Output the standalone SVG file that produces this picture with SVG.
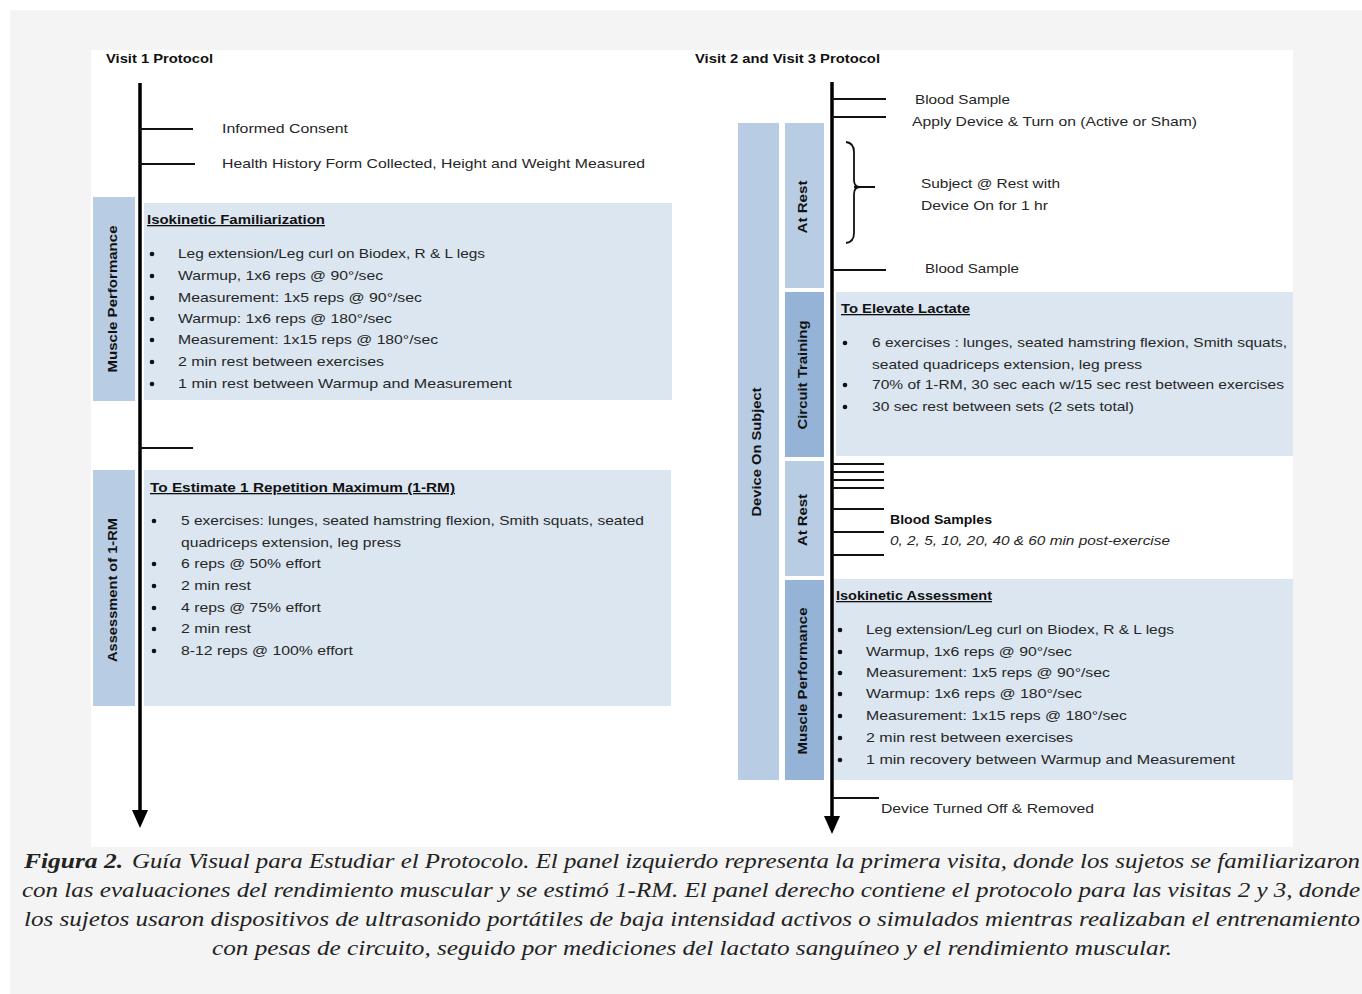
<svg xmlns="http://www.w3.org/2000/svg" width="1362" height="994" viewBox="0 0 1362 994">
<defs>
<style>
.t{font-family:"Liberation Sans",Arial,sans-serif;font-size:13.5px;fill:#262626}
.b{font-family:"Liberation Sans",Arial,sans-serif;font-size:13px;font-weight:bold;fill:#111}
.u{text-decoration:underline}
.i{font-style:italic}
.dot{fill:#111}
.side{fill:#b8cce4}
.side2{fill:#95b3d7}
.box{fill:#dce6f1}
.tick{stroke:#111;stroke-width:2;fill:none}
.axis{stroke:#000;stroke-width:3.5;fill:none}
.cap{font-family:"Liberation Serif","Times New Roman",serif;font-style:italic;font-size:20px;fill:#222}
</style>
<marker id="ah" markerUnits="userSpaceOnUse" markerWidth="18" markerHeight="16" refX="0" refY="8" orient="auto" viewBox="0 0 18 16">
<path d="M0,0 L18,8 L0,16 Z" fill="#000"/>
</marker>
</defs>
<rect x="0" y="0" width="1362" height="994" fill="#ffffff"/>
<rect x="10" y="10" width="1352" height="984" fill="#f4f4f4"/>
<rect x="91" y="50" width="1202" height="797" fill="#ffffff"/>

<!-- Left panel -->
<g id="visit1-title"><text class="b" x="106" y="63" textLength="107" lengthAdjust="spacingAndGlyphs">Visit 1 Protocol</text></g>

<g id="left-mp-side">
<rect class="side" x="93" y="197" width="42" height="204"/>
<text class="b" transform="translate(117,299) rotate(-90)" text-anchor="middle" textLength="147" lengthAdjust="spacingAndGlyphs">Muscle Performance</text>
</g>
<g id="left-mp-box">
<rect class="box" x="144" y="203" width="528" height="197"/>
<text class="b u" x="147" y="224" textLength="178" lengthAdjust="spacingAndGlyphs">Isokinetic Familiarization</text>
<g class="dot">
<circle cx="152" cy="254" r="2.3"/><circle cx="152" cy="276" r="2.3"/><circle cx="152" cy="298" r="2.3"/><circle cx="152" cy="319" r="2.3"/><circle cx="152" cy="340" r="2.3"/><circle cx="152" cy="362" r="2.3"/><circle cx="152" cy="384" r="2.3"/>
</g>
<g class="t">
<text x="178" y="258" textLength="307" lengthAdjust="spacingAndGlyphs">Leg extension/Leg curl on Biodex, R &amp; L legs</text>
<text x="178" y="280" textLength="205" lengthAdjust="spacingAndGlyphs">Warmup, 1x6 reps @ 90°/sec</text>
<text x="178" y="302" textLength="244" lengthAdjust="spacingAndGlyphs">Measurement: 1x5 reps @ 90°/sec</text>
<text x="178" y="323" textLength="214" lengthAdjust="spacingAndGlyphs">Warmup: 1x6 reps @ 180°/sec</text>
<text x="178" y="344" textLength="260" lengthAdjust="spacingAndGlyphs">Measurement: 1x15 reps @ 180°/sec</text>
<text x="178" y="366" textLength="206" lengthAdjust="spacingAndGlyphs">2 min rest between exercises</text>
<text x="178" y="388" textLength="334" lengthAdjust="spacingAndGlyphs">1 min rest between Warmup and Measurement</text>
</g>
</g>

<g id="left-rm-side">
<rect class="side" x="93" y="470" width="42" height="236"/>
<text class="b" transform="translate(117,590) rotate(-90)" text-anchor="middle" textLength="144" lengthAdjust="spacingAndGlyphs">Assessment of 1-RM</text>
</g>
<g id="left-rm-box">
<rect class="box" x="144" y="470" width="527" height="236"/>
<text class="b u" x="150" y="492" textLength="305" lengthAdjust="spacingAndGlyphs">To Estimate 1 Repetition Maximum (1-RM)</text>
<g class="dot">
<circle cx="154" cy="521" r="2.3"/><circle cx="154" cy="564" r="2.3"/><circle cx="154" cy="586" r="2.3"/><circle cx="154" cy="608" r="2.3"/><circle cx="154" cy="629" r="2.3"/><circle cx="154" cy="651" r="2.3"/>
</g>
<g class="t">
<text x="181" y="525" textLength="463" lengthAdjust="spacingAndGlyphs">5 exercises: lunges, seated hamstring flexion, Smith squats, seated</text>
<text x="181" y="547" textLength="220" lengthAdjust="spacingAndGlyphs">quadriceps extension, leg press</text>
<text x="181" y="568" textLength="140" lengthAdjust="spacingAndGlyphs">6 reps @ 50% effort</text>
<text x="181" y="590" textLength="70" lengthAdjust="spacingAndGlyphs">2 min rest</text>
<text x="181" y="612" textLength="140" lengthAdjust="spacingAndGlyphs">4 reps @ 75% effort</text>
<text x="181" y="633" textLength="70" lengthAdjust="spacingAndGlyphs">2 min rest</text>
<text x="181" y="655" textLength="172" lengthAdjust="spacingAndGlyphs">8-12 reps @ 100% effort</text>
</g>
</g>

<g id="left-events" class="t">
<text x="222" y="133" textLength="126" lengthAdjust="spacingAndGlyphs">Informed Consent</text>
<text x="222" y="168" textLength="423" lengthAdjust="spacingAndGlyphs">Health History Form Collected, Height and Weight Measured</text>
</g>

<!-- Right panel -->
<g id="visit23-title"><text class="b" x="695" y="63" textLength="185" lengthAdjust="spacingAndGlyphs">Visit 2 and Visit 3 Protocol</text></g>

<g id="device-side">
<rect class="side" x="738" y="123" width="41" height="657"/>
<text class="b" transform="translate(761,452) rotate(-90)" text-anchor="middle" textLength="129" lengthAdjust="spacingAndGlyphs">Device On Subject</text>
</g>
<g id="rest1-side">
<rect class="side" x="785" y="123" width="39" height="165"/>
<text class="b" transform="translate(807,207) rotate(-90)" text-anchor="middle" textLength="53" lengthAdjust="spacingAndGlyphs">At Rest</text>
</g>
<g id="circuit-side">
<rect class="side2" x="785" y="292" width="39" height="165"/>
<text class="b" transform="translate(807,375) rotate(-90)" text-anchor="middle" textLength="109" lengthAdjust="spacingAndGlyphs">Circuit Training</text>
</g>
<g id="rest2-side">
<rect class="side" x="785" y="461" width="39" height="115"/>
<text class="b" transform="translate(807,520) rotate(-90)" text-anchor="middle" textLength="52" lengthAdjust="spacingAndGlyphs">At Rest</text>
</g>
<g id="mp2-side">
<rect class="side2" x="785" y="580" width="39" height="200"/>
<text class="b" transform="translate(807,681) rotate(-90)" text-anchor="middle" textLength="147" lengthAdjust="spacingAndGlyphs">Muscle Performance</text>
</g>

<g id="lactate-box">
<rect class="box" x="836" y="292" width="457" height="164"/>
<text class="b u" x="841" y="313" textLength="129" lengthAdjust="spacingAndGlyphs">To Elevate Lactate</text>
<g class="dot">
<circle cx="845" cy="343" r="2.3"/><circle cx="845" cy="385" r="2.3"/><circle cx="845" cy="407" r="2.3"/>
</g>
<g class="t">
<text x="872" y="347" textLength="415" lengthAdjust="spacingAndGlyphs">6 exercises : lunges, seated hamstring flexion, Smith squats,</text>
<text x="872" y="369" textLength="270" lengthAdjust="spacingAndGlyphs">seated quadriceps extension, leg press</text>
<text x="872" y="389" textLength="412" lengthAdjust="spacingAndGlyphs">70% of 1-RM, 30 sec each w/15 sec rest between exercises</text>
<text x="872" y="411" textLength="262" lengthAdjust="spacingAndGlyphs">30 sec rest between sets (2 sets total)</text>
</g>
</g>

<g id="iso-box">
<rect class="box" x="832" y="579" width="461" height="201"/>
<text class="b u" x="836" y="600" textLength="156" lengthAdjust="spacingAndGlyphs">Isokinetic Assessment</text>
<g class="dot">
<circle cx="840" cy="630" r="2.3"/><circle cx="840" cy="652" r="2.3"/><circle cx="840" cy="673" r="2.3"/><circle cx="840" cy="694" r="2.3"/><circle cx="840" cy="716" r="2.3"/><circle cx="840" cy="738" r="2.3"/><circle cx="840" cy="760" r="2.3"/>
</g>
<g class="t">
<text x="866" y="634" textLength="308" lengthAdjust="spacingAndGlyphs">Leg extension/Leg curl on Biodex, R &amp; L legs</text>
<text x="866" y="656" textLength="206" lengthAdjust="spacingAndGlyphs">Warmup, 1x6 reps @ 90°/sec</text>
<text x="866" y="677" textLength="244" lengthAdjust="spacingAndGlyphs">Measurement: 1x5 reps @ 90°/sec</text>
<text x="866" y="698" textLength="216" lengthAdjust="spacingAndGlyphs">Warmup: 1x6 reps @ 180°/sec</text>
<text x="866" y="720" textLength="261" lengthAdjust="spacingAndGlyphs">Measurement: 1x15 reps @ 180°/sec</text>
<text x="866" y="742" textLength="207" lengthAdjust="spacingAndGlyphs">2 min rest between exercises</text>
<text x="866" y="764" textLength="369" lengthAdjust="spacingAndGlyphs">1 min recovery between Warmup and Measurement</text>
</g>
</g>

<g id="right-events" class="t">
<text x="915" y="104" textLength="95" lengthAdjust="spacingAndGlyphs">Blood Sample</text>
<text x="912" y="126" textLength="285" lengthAdjust="spacingAndGlyphs">Apply Device &amp; Turn on (Active or Sham)</text>
<text x="921" y="188" textLength="139" lengthAdjust="spacingAndGlyphs">Subject @ Rest with</text>
<text x="921" y="210" textLength="127" lengthAdjust="spacingAndGlyphs">Device On for 1 hr</text>
<text x="925" y="273" textLength="94" lengthAdjust="spacingAndGlyphs">Blood Sample</text>
<text class="b" x="890" y="524" textLength="102" lengthAdjust="spacingAndGlyphs" style="fill:#111">Blood Samples</text>
<text class="i" x="890" y="545" textLength="280" lengthAdjust="spacingAndGlyphs">0, 2, 5, 10, 20, 40 &amp; 60 min post-exercise</text>
<text x="881" y="813" textLength="213" lengthAdjust="spacingAndGlyphs">Device Turned Off &amp; Removed</text>
</g>

<!-- Connectors -->
<g id="connectors">
<line class="axis" x1="140" y1="83" x2="140" y2="810" marker-end="url(#ah)"/>
<line class="tick" x1="140" y1="129" x2="193" y2="129"/>
<line class="tick" x1="140" y1="164" x2="195" y2="164"/>
<line class="tick" x1="140" y1="448" x2="193" y2="448"/>

<line class="axis" x1="832" y1="82" x2="832" y2="816" marker-end="url(#ah)"/>
<line class="tick" x1="832" y1="99" x2="886" y2="99"/>
<line class="tick" x1="832" y1="117" x2="886" y2="117"/>
<line class="tick" x1="832" y1="270" x2="886" y2="270"/>
<path class="tick" style="stroke-width:1.8" d="M846,142 Q854,143 854,152 L854,180 Q854,187 860,187 Q854,187 854,194 L854,233 Q854,242 846,243"/>
<line class="tick" x1="854" y1="187" x2="875" y2="187"/>
<line class="tick" x1="832" y1="464" x2="884" y2="464"/>
<line class="tick" x1="832" y1="472" x2="884" y2="472"/>
<line class="tick" x1="832" y1="480" x2="884" y2="480"/>
<line class="tick" x1="832" y1="488" x2="884" y2="488"/>
<line class="tick" x1="832" y1="509" x2="884" y2="509"/>
<line class="tick" x1="832" y1="532" x2="884" y2="532"/>
<line class="tick" x1="832" y1="555" x2="884" y2="555"/>
<line class="tick" x1="832" y1="798" x2="879" y2="798"/>
</g>

<!-- Caption -->
<g id="caption">
<text class="cap" x="24" y="868" font-weight="bold" textLength="99" lengthAdjust="spacingAndGlyphs">Figura 2.</text>
<text class="cap" x="132" y="868" textLength="1228" lengthAdjust="spacingAndGlyphs">Guía Visual para Estudiar el Protocolo. El panel izquierdo representa la primera visita, donde los sujetos se familiarizaron</text>
<text class="cap" x="22" y="897" textLength="1338" lengthAdjust="spacingAndGlyphs">con las evaluaciones del rendimiento muscular y se estimó 1-RM. El panel derecho contiene el protocolo para las visitas 2 y 3, donde</text>
<text class="cap" x="24" y="926" textLength="1336" lengthAdjust="spacingAndGlyphs">los sujetos usaron dispositivos de ultrasonido portátiles de baja intensidad activos o simulados mientras realizaban el entrenamiento</text>
<text class="cap" x="212" y="955" textLength="960" lengthAdjust="spacingAndGlyphs">con pesas de circuito, seguido por mediciones del lactato sanguíneo y el rendimiento muscular.</text>
</g>
</svg>
